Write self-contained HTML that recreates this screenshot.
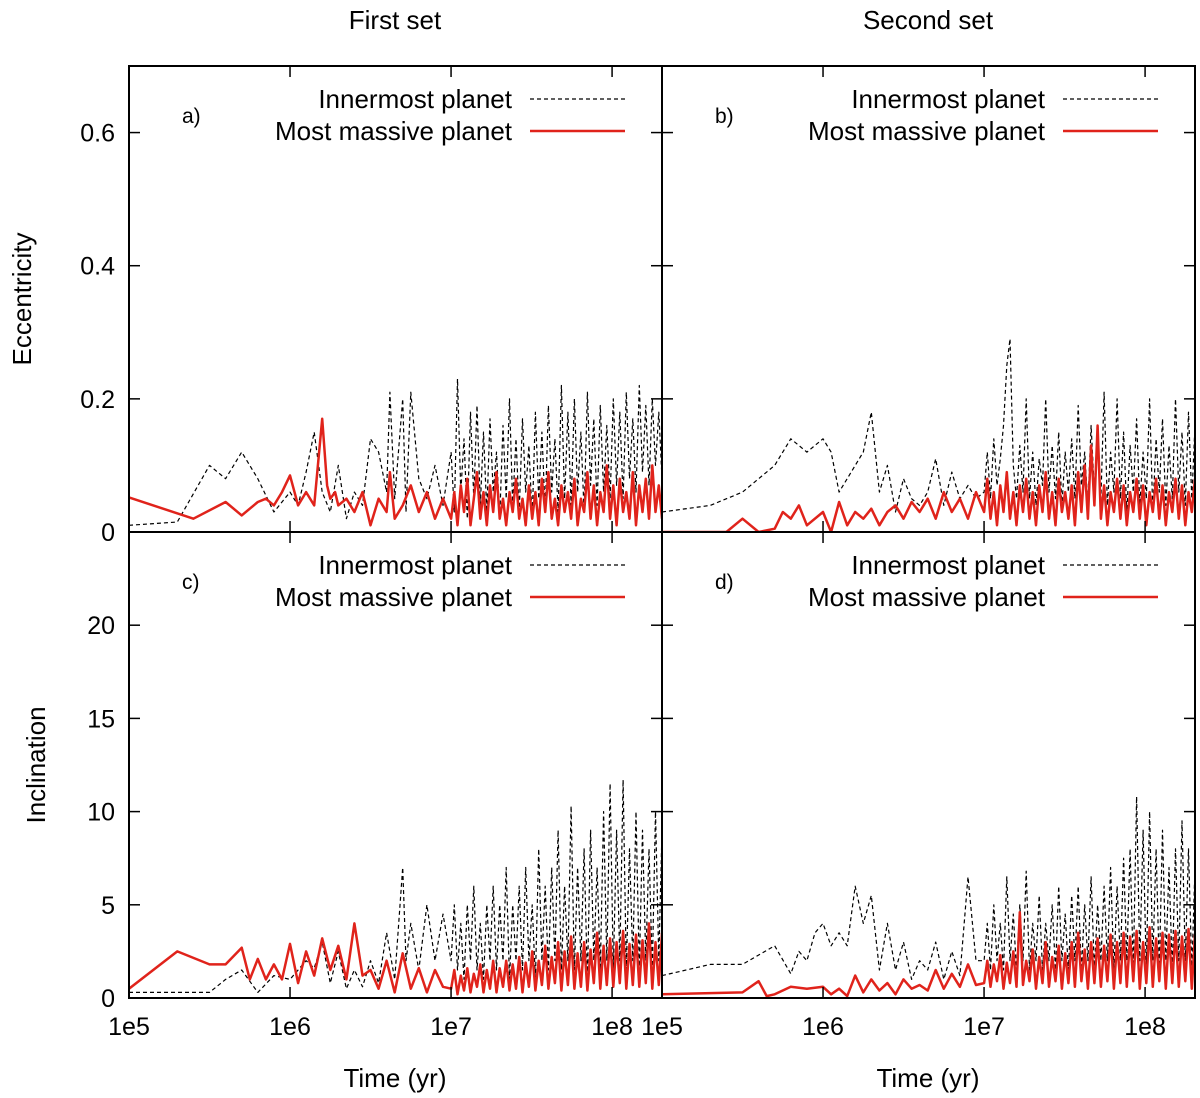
<!DOCTYPE html>
<html><head><meta charset="utf-8">
<style>
body{margin:0;background:#fff;}
svg{display:block;font-family:"Liberation Sans",sans-serif;}
</style></head>
<body>
<svg id="chart" width="1200" height="1098" viewBox="0 0 1200 1098" xmlns="http://www.w3.org/2000/svg"></svg>
<script>
// ---- data (log10 time for sparse points; dense values span denseStart..8.31) ----
const xTickLabels = ["1e5","1e6","1e7","1e8"];
const eccTicks = [0,0.2,0.4,0.6];
const eccTickLabels = ["0","0.2","0.4","0.6"];
const incTicks = [0,5,10,15,20];
const incTickLabels = ["0","5","10","15","20"];

const aInnerT=[5.0,5.3,5.5,5.6,5.7,5.8,5.9,6.0,6.05,6.1,6.15,6.2,6.25,6.3,6.35,6.4,6.45,6.5,6.55,6.6,6.62,6.65,6.7,6.72,6.75,6.8,6.85,6.9,6.95];
const aInnerV=[.01,.015,.1,.08,.12,.08,.03,.06,.04,.09,.15,.06,.03,.1,.02,.06,.04,.14,.12,.06,.21,.05,.2,.03,.21,.08,.05,.1,.04];
const aInnerD=[.12,.03,.23,.06,.14,.02,.18,.05,.19,.04,.15,.03,.17,.06,.12,.02,.16,.05,.2,.04,.14,.03,.17,.06,.13,.02,.18,.05,.15,.03,.19,.06,.14,.03,.22,.05,.18,.04,.2,.06,.15,.03,.21,.07,.17,.04,.19,.06,.16,.05,.2,.07,.18,.05,.21,.08,.17,.06,.22,.09,.19,.07,.2,.1,.18,.08];
const aMassT=[5.0,5.4,5.6,5.7,5.8,5.85,5.9,5.95,6.0,6.05,6.1,6.15,6.2,6.23,6.25,6.28,6.3,6.35,6.4,6.45,6.5,6.55,6.6,6.62,6.65,6.7,6.75,6.8,6.85,6.9,6.95];
const aMassV=[.052,.02,.045,.025,.045,.05,.04,.06,.085,.04,.06,.04,.17,.07,.05,.06,.04,.05,.03,.06,.01,.05,.03,.09,.02,.04,.07,.03,.06,.02,.05];
const aMassD=[.02,.06,.01,.07,.03,.08,.01,.05,.09,.02,.06,.01,.07,.03,.09,.02,.05,.01,.06,.03,.08,.02,.05,.01,.07,.02,.06,.01,.08,.03,.09,.02,.05,.01,.07,.03,.06,.02,.08,.01,.05,.03,.09,.02,.07,.01,.06,.03,.1,.02,.07,.01,.08,.03,.06,.02,.09,.01,.07,.03,.08,.02,.1,.03,.07,.02];

const bInnerT=[5.0,5.3,5.5,5.7,5.8,5.9,6.0,6.05,6.1,6.2,6.25,6.3,6.35,6.4,6.45,6.5,6.55,6.6,6.65,6.7,6.75,6.8,6.85,6.9,6.95];
const bInnerV=[.03,.04,.06,.1,.14,.12,.14,.12,.06,.1,.12,.18,.06,.1,.03,.08,.05,.04,.06,.11,.04,.09,.05,.07,.05];
const bInnerD=[.06,.12,.05,.14,.07,.11,.16,.25,.29,.1,.05,.13,.06,.2,.05,.12,.04,.11,.07,.2,.06,.13,.05,.15,.04,.12,.06,.14,.05,.19,.07,.12,.04,.16,.06,.14,.05,.21,.04,.12,.06,.2,.05,.15,.03,.13,.06,.17,.04,.12,.05,.2,.03,.14,.06,.17,.04,.13,.05,.2,.06,.15,.04,.18,.05,.16];
const bMassT=[5.0,5.4,5.5,5.6,5.7,5.75,5.8,5.85,5.9,6.0,6.05,6.1,6.15,6.2,6.25,6.3,6.35,6.4,6.45,6.5,6.55,6.6,6.65,6.7,6.75,6.8,6.85,6.9,6.95];
const bMassV=[0,0,.02,0,.005,.03,.02,.04,.01,.03,0,.045,.01,.03,.02,.035,.01,.03,.04,.02,.045,.03,.05,.02,.06,.03,.05,.02,.06];
const bMassD=[.03,.08,.02,.06,.01,.07,.03,.09,.02,.06,.01,.07,.03,.08,.02,.06,.01,.07,.03,.09,.02,.06,.01,.08,.03,.06,.02,.07,.01,.09,.03,.1,.02,.13,.04,.16,.02,.07,.01,.06,.03,.08,.02,.07,.01,.06,.03,.08,.02,.07,.01,.06,.03,.08,.02,.07,.01,.06,.03,.08,.02,.07,.01,.06,.03,.08];

const cInnerT=[5.0,5.5,5.6,5.7,5.8,5.9,6.0,6.1,6.15,6.2,6.25,6.3,6.35,6.4,6.45,6.5,6.55,6.6,6.65,6.7,6.72,6.75,6.8,6.85,6.9,6.95];
const cInnerV=[.3,.3,1,1.5,.3,1.2,1,2,1.6,3,.8,2.5,.5,1.5,.6,2,.8,3.5,1,7,2,4,1.5,5,2,4.5];
const cInnerD=[2,5,1.5,4,1,5,2,6,1.5,4,1,5,2,6,1.5,5,2,7,1,5,2,6,1.5,7,2,5,1,8,2,6,1.5,7,2,9,1.5,6,2,10.3,1.5,7,2,8,1,9,2,7,1.5,10,2,11.5,1.5,9,2,11.7,1.5,8,2,10,1.5,9,2,8,1.5,10,2,9];
const cMassT=[5.0,5.3,5.5,5.6,5.7,5.75,5.8,5.85,5.9,5.95,6.0,6.05,6.1,6.15,6.2,6.25,6.3,6.35,6.4,6.45,6.5,6.55,6.6,6.65,6.7,6.75,6.8,6.85,6.9,6.95];
const cMassV=[.5,2.5,1.8,1.8,2.7,1,2.1,1,1.8,1,2.9,.8,2.5,1.2,3.2,1.5,2.8,1,4,1.2,1.5,.5,2,.3,2.4,.5,1.6,.3,1.5,.6];
const cMassD=[.5,1.5,.2,1.2,.4,1.6,.3,1.3,.6,1.8,.3,1.5,.5,2,.3,1.6,.6,2,.4,1.8,.5,2.2,.3,1.9,.6,2.5,.4,2,.7,2.8,.5,2.2,.8,3,.4,2.5,.7,3.3,.5,2.4,.6,3,.4,2.6,.8,3.5,.5,2.8,.7,3.2,.6,3,.8,3.6,.5,2.9,.7,3.4,.6,3.1,.8,4,.5,3,.7,3.5];

const dInnerT=[5.0,5.3,5.5,5.7,5.8,5.85,5.9,5.95,6.0,6.05,6.1,6.15,6.2,6.25,6.3,6.35,6.4,6.45,6.5,6.55,6.6,6.65,6.7,6.75,6.8,6.85,6.9,6.95];
const dInnerV=[1.2,1.8,1.8,2.8,1.3,2.5,2,3.5,4,2.8,3.5,2.8,6,4,5.5,1.5,4,1.5,3,1,2,1.5,3,1,2.5,1.2,6.5,2];
const dInnerD=[2,4,1.5,5,2,4,1.5,6.5,2,4.5,1.5,5,2,6.8,1.5,4,2,5.5,1.5,4,2,5,1.5,6,2,4.5,1.5,5.5,2,6,1.5,5,2,6.5,1.5,5,2,6,2,7,1.5,6,2,7.5,2,8,1.5,10.8,2,9,1.5,10,2,8,1.5,9,2,7,1.5,8,2,9.5,2,8,1.5,7];
const dMassT=[5.0,5.5,5.6,5.65,5.7,5.8,5.9,6.0,6.05,6.1,6.15,6.2,6.25,6.3,6.35,6.4,6.45,6.5,6.55,6.6,6.65,6.7,6.75,6.8,6.85,6.9,6.95];
const dMassV=[.2,.3,.9,.1,.2,.6,.5,.6,.2,.5,.1,1.2,.3,1,.4,.8,.2,1,.5,.7,.4,1.5,.5,1.3,.6,1.8,.7];
const dMassD=[.8,2,.6,1.8,.9,2.3,.5,1.9,.8,2.5,.6,4.6,.7,2,.9,2.6,.5,2.2,.8,3,.6,2.2,.9,2.8,.5,2.4,.8,3,.6,3.5,.9,2.6,.5,3,.8,3.2,.6,2.8,.9,3.4,.5,3,.8,3.5,.6,3.3,.9,3.6,.5,3,.8,3.8,.6,3.2,.9,3.5,.5,3.4,.8,3.6,.6,3.3,.9,3.7,.5,3.4];

const NS="http://www.w3.org/2000/svg";
const svg=document.getElementById('chart');
function mk(tag,attrs,parent){const e=document.createElementNS(NS,tag);for(const k in attrs)e.setAttribute(k,attrs[k]);(parent||svg).appendChild(e);return e;}

const XMIN=5, XMAX=8.31, DSTART=7.0;
const panels=[
 {id:'a',x0:129,x1:662,y0:66,y1:532,ymax:0.7,ticks:eccTicks,tl:eccTickLabels,showY:true,showX:false,
  s:[[aInnerT,aInnerV,aInnerD],[aMassT,aMassV,aMassD]]},
 {id:'b',x0:662,x1:1195,y0:66,y1:532,ymax:0.7,ticks:eccTicks,tl:eccTickLabels,showY:false,showX:false,
  s:[[bInnerT,bInnerV,bInnerD],[bMassT,bMassV,bMassD]]},
 {id:'c',x0:129,x1:662,y0:532,y1:998,ymax:25,ticks:incTicks,tl:incTickLabels,showY:true,showX:true,
  s:[[cInnerT,cInnerV,cInnerD],[cMassT,cMassV,cMassD]]},
 {id:'d',x0:662,x1:1195,y0:532,y1:998,ymax:25,ticks:incTicks,tl:incTickLabels,showY:false,showX:true,
  s:[[dInnerT,dInnerV,dInnerD],[dMassT,dMassV,dMassD]]}
];
const defs=mk('defs',{});
panels.forEach(p=>{
  const cp=mk('clipPath',{id:'clip-'+p.id},defs);
  mk('rect',{x:p.x0,y:p.y0,width:p.x1-p.x0,height:p.y1-p.y0},cp);
});
panels.forEach(p=>{
  const xs=t=>p.x0+(t-XMIN)/(XMAX-XMIN)*(p.x1-p.x0);
  const ys=v=>p.y1-v/p.ymax*(p.y1-p.y0);
  const g=mk('g',{});
  
  
  const styles=[{stroke:'#000','stroke-width':1.2,'stroke-dasharray':'4,3'},{stroke:'#e0231b','stroke-width':2.5}];
  p.s.forEach((ser,si)=>{
    const [T,V,D]=ser;
    const pts=T.map((t,i)=>[xs(t),ys(V[i])]);
    const step=(XMAX-DSTART)/(D.length-1);
    D.forEach((v,i)=>pts.push([xs(DSTART+i*step),ys(v)]));
    const pl=mk('polyline',Object.assign({points:pts.map(q=>q[0].toFixed(1)+','+q[1].toFixed(1)).join(' '),fill:'none','clip-path':'url(#clip-'+p.id+')','stroke-linejoin':'round'},styles[si]),g);
    
    
  });
  // frame
  const fr=mk('rect',{x:p.x0,y:p.y0,width:p.x1-p.x0,height:p.y1-p.y0,fill:'none',stroke:'#000','stroke-width':2},g);
  
  
  // y ticks
  p.ticks.forEach((v,i)=>{
    const y=ys(v);
    mk('line',{x1:p.x0,x2:p.x0+11,y1:y,y2:y,stroke:'#000','stroke-width':1.5},g);
    mk('line',{x1:p.x1,x2:p.x1-11,y1:y,y2:y,stroke:'#000','stroke-width':1.5},g);
    if(p.showY){
      const t=mk('text',{x:p.x0-14,y:y+9,'text-anchor':'end','font-size':25},g);
      t.textContent=p.tl[i];
      
      
    }
  });
  // x ticks
  xTickLabels.forEach((lab,i)=>{
    const x=xs(5+i);
    mk('line',{x1:x,x2:x,y1:p.y1,y2:p.y1-11,stroke:'#000','stroke-width':1.5},g);
    mk('line',{x1:x,x2:x,y1:p.y0,y2:p.y0+11,stroke:'#000','stroke-width':1.5},g);
    if(p.showX){
      const t=mk('text',{x:x,y:1035,'text-anchor':'middle','font-size':25},g);
      t.textContent=lab;
      
      
    }
  });
  // panel label
  const pl=mk('text',{x:p.x0+53,y:p.y0+57,'font-size':21},g);
  pl.textContent=p.id+')';
  
  
  // legend
  const lx=p.x0+383, ly1=p.y0+42, ly2=p.y0+74;
  const t1=mk('text',{x:lx,y:ly1,'text-anchor':'end','font-size':26},g);
  t1.textContent='Innermost planet';
  
  
  mk('line',{x1:p.x0+401,x2:p.x0+496,y1:ly1-9,y2:ly1-9,stroke:'#000','stroke-width':1.2,'stroke-dasharray':'4,3'},g);
  const t2=mk('text',{x:lx,y:ly2,'text-anchor':'end','font-size':26},g);
  t2.textContent='Most massive planet';
  
  
  mk('line',{x1:p.x0+401,x2:p.x0+496,y1:ly2-9,y2:ly2-9,stroke:'#e0231b','stroke-width':2.5},g);
});
function txt(s,attrs,name){const t=mk('text',attrs);t.textContent=s;return t;}
txt('First set',{x:395,y:29,'text-anchor':'middle','font-size':26},'title-first-set');
txt('Second set',{x:928,y:29,'text-anchor':'middle','font-size':26},'title-second-set');
txt('Time (yr)',{x:395,y:1087,'text-anchor':'middle','font-size':26},'x-axis-title-left');
txt('Time (yr)',{x:928,y:1087,'text-anchor':'middle','font-size':26},'x-axis-title-right');
txt('Eccentricity',{x:0,y:0,'text-anchor':'middle','font-size':26,transform:'translate(31,299) rotate(-90)'},'y-axis-title-eccentricity');
txt('Inclination',{x:0,y:0,'text-anchor':'middle','font-size':26,transform:'translate(45,765) rotate(-90)'},'y-axis-title-inclination');
</script>
</body></html>
